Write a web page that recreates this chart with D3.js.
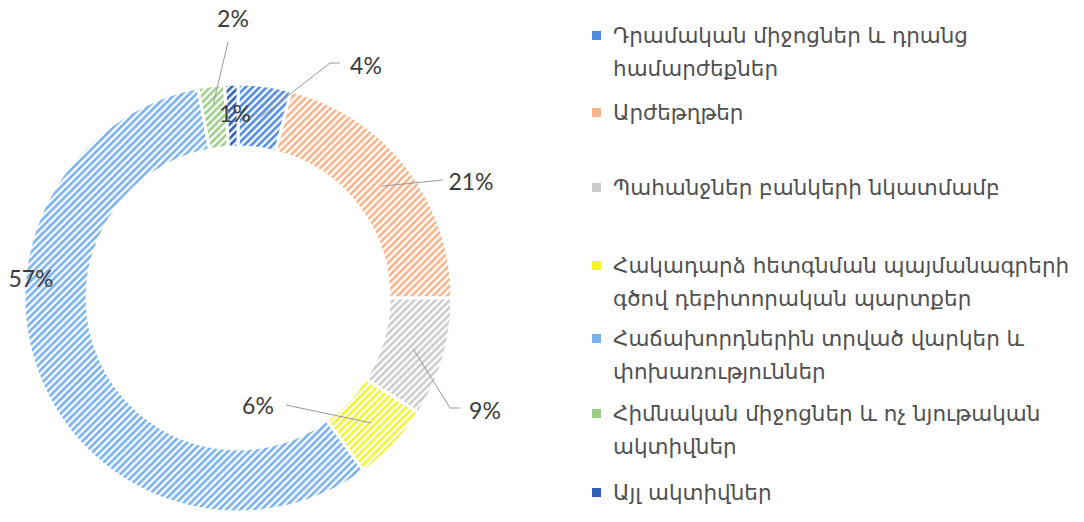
<!DOCTYPE html>
<html>
<head>
<meta charset="utf-8">
<script src="https://cdn.jsdelivr.net/npm/d3@7"></script>
<style>
  body { margin: 0; background: #fff; }
  svg { display: block; }
</style>
</head>
<body>
<div id="chart"></div>
<script>
// asset structure, percent of total
var categories = [
    "Դրամական միջոցներ և դրանց համարժեքներ",
    "Արժեթղթեր",
    "Պահանջներ բանկերի նկատմամբ",
    "Հակադարձ հետգնման պայմանագրերի գծով դեբիտորական պարտքեր",
    "Հաճախորդներին տրված վարկեր և փոխառություններ",
    "Հիմնական միջոցներ և ոչ նյութական ակտիվներ",
    "Այլ ակտիվներ"
];
var values = [4, 21, 9, 6, 57, 2, 1];
var valueLabels = ["4%", "21%", "9%", "6%", "57%", "2%", "1%"];

// legend lines as wrapped in the picture
var legendLines = [
    ["Դրամական միջոցներ և դրանց", "համարժեքներ"],
    ["Արժեթղթեր"],
    ["Պահանջներ բանկերի նկատմամբ"],
    ["Հակադարձ հետգնման պայմանագրերի", "գծով դեբիտորական պարտքեր"],
    ["Հաճախորդներին տրված վարկեր և", "փոխառություններ"],
    ["Հիմնական միջոցներ և ոչ նյութական", "ակտիվներ"],
    ["Այլ ակտիվներ"]
];

var colors = ["#4f8be0", "#f7b48a", "#cccccc", "#f2f230", "#78b2ee", "#9ccf86", "#2f5fb5"];

// label text positions, relative to pie centre, and leader elbows
var labelLayout = [
    { text: [128, -233], elbow: [92, -235], end: [102, -235], anchor: "middle" },
    { text: [233, -117], elbow: [205, -118], end: [205, -118], anchor: "middle" },
    { text: [247, 112], elbow: [212, 110], end: [222, 110], anchor: "middle" },
    { text: [20, 107], elbow: [48, 107], end: [48, 107], anchor: "middle" },
    { text: [-207, -20], anchor: "middle" },
    { text: [-5, -280], elbow: [-10, -256], end: [-10, -256], anchor: "middle", start: 196 },
    { text: [-3, -185], anchor: "middle" }
];

var width = 1084, height = 522;
var cx = 238, cy = 298, outerR = 214, innerR = 151;

var svg = d3.select("#chart").append("svg")
    .attr("width", width)
    .attr("height", height);

var defs = svg.append("defs");
colors.forEach(function (c, i) {
    var p = defs.append("pattern")
        .attr("id", "hatch" + i)
        .attr("patternUnits", "userSpaceOnUse")
        .attr("width", 5)
        .attr("height", 5)
        .attr("patternTransform", "rotate(45)");
    p.append("rect").attr("width", 5).attr("height", 5).attr("fill", "#fff");
    p.append("rect").attr("width", 2.6).attr("height", 5).attr("fill", c);
});

var pie = d3.pie().sort(null).value(function (d) { return d; });
var arcs = pie(values);

var arc = d3.arc().innerRadius(innerR).outerRadius(outerR);

var g = svg.append("g").attr("transform", "translate(" + cx + "," + cy + ")");

g.selectAll("path.slice")
    .data(arcs)
    .enter().append("path")
    .attr("class", "slice")
    .attr("d", arc)
    .attr("fill", function (d, i) { return "url(#hatch" + i + ")"; })
    .attr("stroke", "#fff")
    .attr("stroke-width", 3);

// leader lines
var line = d3.line();
g.selectAll("path.leader")
    .data(arcs.filter(function (d, i) { return labelLayout[i].elbow; }))
    .enter().append("path")
    .attr("class", "leader")
    .attr("d", function (d) {
        var L = labelLayout[d.index];
        var r = L.start || (innerR + outerR) / 2;
        var a = (d.startAngle + d.endAngle) / 2;
        var p0 = [Math.sin(a) * r, -Math.cos(a) * r];
        return line([p0, L.elbow, L.end]);
    })
    .attr("fill", "none")
    .attr("stroke", "#9a9a9a")
    .attr("stroke-width", 1);

g.selectAll("text.pct")
    .data(arcs)
    .enter().append("text")
    .attr("class", "pct")
    .attr("x", function (d) { return labelLayout[d.index].text[0]; })
    .attr("y", function (d) { return labelLayout[d.index].text[1]; })
    .attr("text-anchor", function (d) { return labelLayout[d.index].anchor; })
    .attr("dominant-baseline", "central")
    .style("font-family", "Lato, 'Open Sans', sans-serif")
    .style("font-size", "23px")
    .style("fill", "#3a3a3a")
    .text(function (d) { return valueLabels[d.index]; });

// legend
var legendTop = [35, 112, 187, 265, 338, 413, 492];
var legend = svg.append("g").attr("transform", "translate(592,0)");

var item = legend.selectAll("g.item")
    .data(categories)
    .enter().append("g")
    .attr("class", "item")
    .attr("transform", function (d, i) { return "translate(0," + legendTop[i] + ")"; });

item.append("rect")
    .attr("x", 0)
    .attr("y", -4)
    .attr("width", 9)
    .attr("height", 9)
    .attr("fill", function (d, i) { return colors[i]; });

item.append("text")
    .attr("x", 21)
    .style("font-family", "'DejaVu Sans', sans-serif")
    .style("font-size", "21.5px")
    .style("fill", "#505050")
    .selectAll("tspan")
    .data(function (d, i) { return legendLines[i]; })
    .enter().append("tspan")
    .attr("x", 21)
    .attr("y", function (d, j) { return j * 33; })
    .attr("dy", "0.35em")
    .text(function (d) { return d; });
</script>
</body>
</html>
